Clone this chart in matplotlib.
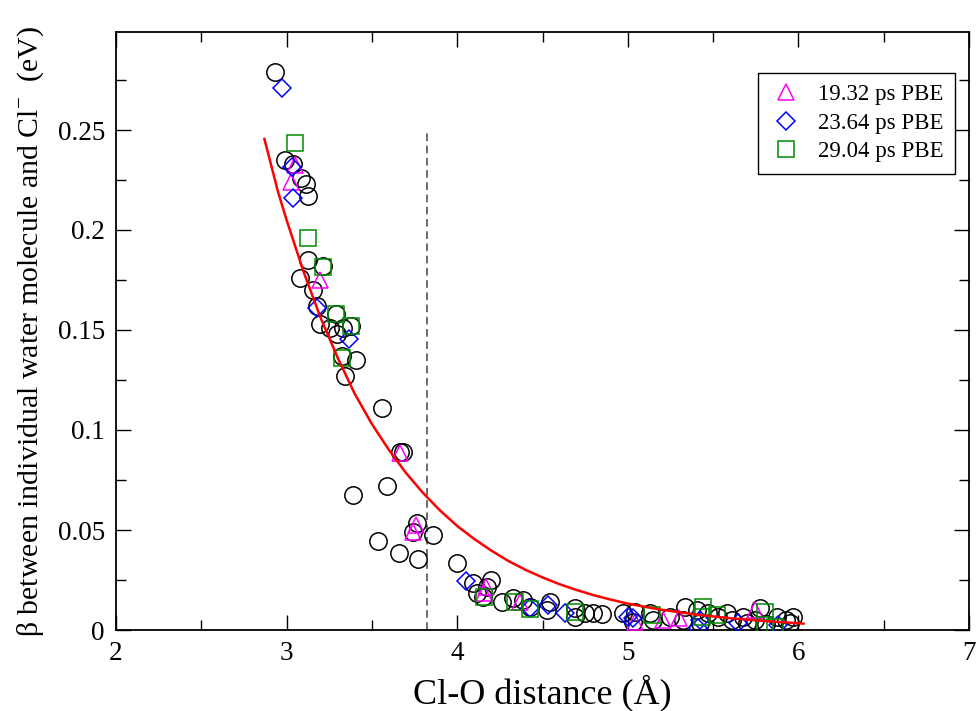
import matplotlib
matplotlib.use("Agg")
import matplotlib.pyplot as plt
from matplotlib.ticker import MultipleLocator

plt.rcParams['font.family'] = ['Liberation Serif', 'DejaVu Serif']
plt.rcParams['mathtext.fontset'] = 'custom'
plt.rcParams['mathtext.rm'] = 'Liberation Serif'

# Black circles (all data)
circ_x = [2.932, 2.99, 3.04, 3.083, 3.114, 3.127, 3.127, 3.215, 3.078, 3.157,
          3.18, 3.29, 3.196, 3.254, 3.294, 3.33, 3.375, 3.323, 3.405, 3.342,
          3.557, 3.665, 3.684, 3.587, 3.387, 3.763, 3.739, 3.86, 3.534, 3.66,
          3.768, 3.997, 4.095, 4.2, 4.172, 4.114, 4.153, 4.26, 4.329, 4.387,
          4.427, 4.544, 4.524, 4.69, 4.69, 4.749, 4.797, 4.847, 4.974, 5.042,
          5.032, 5.13, 5.149, 5.247, 5.335, 5.325, 5.403, 5.472, 5.423, 5.53,
          5.579, 5.608, 5.677, 5.696, 5.775, 5.746, 5.873, 5.93, 5.97, 5.95, 5.81]
circ_y = [0.279, 0.235, 0.233, 0.226, 0.223, 0.217, 0.185, 0.182, 0.176, 0.170,
          0.162, 0.158, 0.153, 0.151, 0.148, 0.151, 0.152, 0.137, 0.135, 0.127,
          0.111, 0.089, 0.089, 0.072, 0.0675, 0.0537, 0.049, 0.0475, 0.0447, 0.0387,
          0.0353, 0.0335, 0.0233, 0.025, 0.0217, 0.0183, 0.0167, 0.0142, 0.0158, 0.015,
          0.0117, 0.0142, 0.010, 0.0108, 0.0067, 0.0083, 0.0083, 0.008, 0.0083, 0.0092,
          0.0042, 0.0083, 0.005, 0.0067, 0.0117, 0.005, 0.010, 0.0083, 0.0033, 0.0067,
          0.0083, 0.005, 0.0067, 0.0033, 0.0108, 0.005, 0.0067, 0.005, 0.0067, 0.0035, 0.003]

# 19.32 ps PBE
tri_x = [3.049, 3.024, 3.196, 3.665, 3.76, 3.739, 4.168, 4.157, 4.368, 5.042,
         5.208, 5.302, 5.746]
tri_y = [0.2325, 0.224, 0.175, 0.0887, 0.0527, 0.0492, 0.0217, 0.0183, 0.0142, 0.0042,
         0.005, 0.0058, 0.010]

# 23.64 ps PBE
dia_x = [2.971, 3.034, 3.039, 3.18, 3.367, 4.052, 4.427, 4.534, 4.632, 5.003,
         5.032, 5.423, 5.413, 5.648, 5.882]
dia_y = [0.271, 0.2317, 0.2158, 0.161, 0.1453, 0.0243, 0.0108, 0.0125, 0.0083, 0.0067,
         0.0058, 0.005, 0.001, 0.0033, 0.0025]

# 29.04 ps PBE
sq_x = [3.049, 3.127, 3.215, 3.29, 3.375, 3.323, 4.157, 4.339, 4.427, 4.69,
        5.14, 5.443, 5.433, 5.52, 5.804, 5.804, 5.863]
sq_y = [0.2437, 0.196, 0.1817, 0.158, 0.152, 0.1358, 0.0167, 0.0142, 0.0103, 0.0092,
        0.0075, 0.0117, 0.0067, 0.0075, 0.0092, 0.0025, 0.0017]

# Fitted curve
fit_x = [2.87, 2.95, 3.0, 3.1, 3.2, 3.3, 3.4, 3.5, 3.6, 3.7, 3.8, 3.9, 4.0,
         4.1, 4.2, 4.3, 4.4, 4.5, 4.6, 4.7, 4.8, 4.9, 5.0, 5.1, 5.2, 5.4,
         5.6, 5.8, 6.03]
fit_y = [0.2455, 0.219, 0.205, 0.179, 0.156, 0.136, 0.118, 0.103, 0.090, 0.0785,
         0.0685, 0.0597, 0.052, 0.0455, 0.0397, 0.0345, 0.0301, 0.0263, 0.0229,
         0.020, 0.0174, 0.0152, 0.0132, 0.0116, 0.0101, 0.0077, 0.0059, 0.0045,
         0.0032]

cutoff_x = 3.823
cutoff_top = 0.25

fig = plt.figure(figsize=(9.78, 7.11), dpi=100)
ax = fig.add_axes([116/978, 1 - 630/711, (969-116)/978, (630-32)/711])

ax.plot([cutoff_x, cutoff_x], [0, cutoff_top], color='#444444', lw=1.1,
        dashes=(5, 3), zorder=1)

ax.plot(circ_x, circ_y, linestyle='none', marker='o', ms=12.5, mfc='none',
        mec='black', mew=1.1, zorder=2)
ax.plot(tri_x, tri_y, linestyle='none', marker='^', ms=12, mfc='none',
        mec='#ff00ff', mew=1.1, zorder=3, label='19.32 ps PBE')
ax.plot(dia_x, dia_y, linestyle='none', marker='D', ms=9, mfc='none',
        mec='#0000ff', mew=1.1, zorder=3, label='23.64 ps PBE')
ax.plot(sq_x, sq_y, linestyle='none', marker='s', ms=11, mfc='none',
        mec='#008c00', mew=1.1, zorder=3, label='29.04 ps PBE')

ax.plot(fit_x, fit_y, color='red', lw=1.8, zorder=4)

ax.set_xlim(2, 7)
ax.set_ylim(0, 0.299)
ax.xaxis.set_major_locator(MultipleLocator(1))
ax.xaxis.set_minor_locator(MultipleLocator(0.5))
ax.yaxis.set_minor_locator(MultipleLocator(0.025))
ax.set_yticks([0, 0.05, 0.1, 0.15, 0.2, 0.25])
ax.set_yticklabels(['0', '0.05', '0.1', '0.15', '0.2', '0.25'])

ax.tick_params(which='both', direction='in', top=True, right=True, width=1.0)
ax.tick_params(which='major', length=11, labelsize=19.5, pad=8)
ax.tick_params(which='minor', length=7)
for s in ax.spines.values():
    s.set_linewidth(1.3)

ax.set_xlabel('Cl-O distance (Å)', fontsize=26, labelpad=6)
ax.set_ylabel(r'β between individual water molecule and Cl$^{\mathrm{-}}$  (eV)',
              fontsize=21.5, labelpad=8)

leg = ax.legend(loc='upper right', bbox_to_anchor=(0.984, 0.932),
                borderaxespad=0, fontsize=16.5, frameon=True, fancybox=False,
                edgecolor='black', framealpha=1, numpoints=1, handlelength=1.4,
                handletextpad=0.72, labelspacing=0.33, borderpad=0.5)
leg.get_frame().set_linewidth(1.0)

fig.savefig('out.png', dpi=100)
